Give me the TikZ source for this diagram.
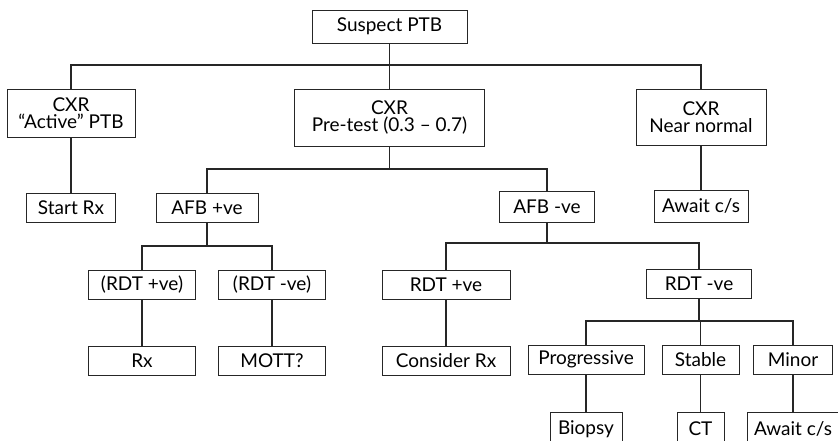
\documentclass[tikz,border=0pt]{standalone}
\usepackage{fontspec}
\setmainfont{Lato}
\tikzset{
	box/.style={draw=black!85, line width=0.8pt, inner sep=0pt, align=center, font=\fontsize{19}{17.5}\selectfont},
	link/.style={draw=black!85, line width=1.1pt}
}
\begin{document}
\begin{tikzpicture}[x=1pt, y=-1pt]
	\useasboundingbox (0,0) rectangle (838,441);
	\clip (0,0) rectangle (838,441);
	\node[box, minimum width=155, minimum height=33] (top) at (389.5,26.5) {Suspect PTB};
	\node[box, minimum width=128, minimum height=48] (cxrA) at (71,113) {CXR\\“Active” PTB};
	\node[box, minimum width=190, minimum height=57] (cxrP) at (389.5,117.5) {CXR\\Pre-test (0.3 – 0.7)};
	\node[box, minimum width=130, minimum height=56] (cxrN) at (701,117) {CXR\\Near normal};
	\node[box, minimum width=89, minimum height=29] (startrx) at (71,207.5) {Start Rx};
	\node[box, minimum width=102, minimum height=29] (afbP) at (207,207.5) {AFB +ve};
	\node[box, minimum width=95, minimum height=31] (afbN) at (547,206.5) {AFB -ve};
	\node[box, minimum width=94, minimum height=32] (awaitA) at (701,206) {Await c/s};
	\node[box, minimum width=107, minimum height=29] (rdtPp) at (142,284.5) {(RDT +ve)};
	\node[box, minimum width=107, minimum height=29] (rdtPn) at (272,284.5) {(RDT -ve)};
	\node[box, minimum width=128, minimum height=29] (rdtP) at (446,284.5) {RDT +ve};
	\node[box, minimum width=105, minimum height=29] (rdtN) at (699,284) {RDT -ve};
	\node[box, minimum width=107, minimum height=29] (rx) at (142,360.5) {Rx};
	\node[box, minimum width=107, minimum height=29] (mott) at (272,360.5) {MOTT?};
	\node[box, minimum width=128, minimum height=29] (consider) at (446,360.5) {Consider Rx};
	\node[box, minimum width=116, minimum height=29] (prog) at (586,359.5) {Progressive};
	\node[box, minimum width=77, minimum height=29] (stable) at (700.5,360) {Stable};
	\node[box, minimum width=79, minimum height=29] (minor) at (793,359.5) {Minor};
	\node[box, minimum width=72, minimum height=33, anchor=north] (biopsy) at (586,412) {Biopsy};
	\node[box, minimum width=47, minimum height=33, anchor=north] (ct) at (700.5,412) {CT};
	\node[box, minimum width=91, minimum height=33, anchor=north] (awaitB) at (793,412) {Await c/s};
	
	\coordinate (j1) at (389.5,65);
	\coordinate (j2) at (389.5,169);
	\coordinate (j3) at (207,246);
	\coordinate (j4) at (547,243);
	\coordinate (j5) at (699,321);
	
	\path[link] (top) -- (j1)
	(j1) -| (cxrA)
	(j1) -| (cxrN)
	(j1) -- (cxrP)
	(cxrP) -- (j2)
	(j2) -| (afbP)
	(j2) -| (afbN)
	(afbP) -- (j3)
	(j3) -| (rdtPp)
	(j3) -| (rdtPn)
	(afbN) -- (j4)
	(j4) -| (rdtP)
	(j4) -| (rdtN)
	(rdtN) -- (j5)
	(j5) -| (prog)
	(j5) -| (stable)
	(j5) -| (minor);
	\path[link] (cxrA) edge (startrx)
	(cxrN) edge (awaitA)
	(rdtPp) edge (rx)
	(rdtPn) edge (mott)
	(rdtP) edge (consider)
	(prog) edge (biopsy)
	(stable) edge (ct)
	(minor) edge (awaitB);
\end{tikzpicture}
\end{document}
